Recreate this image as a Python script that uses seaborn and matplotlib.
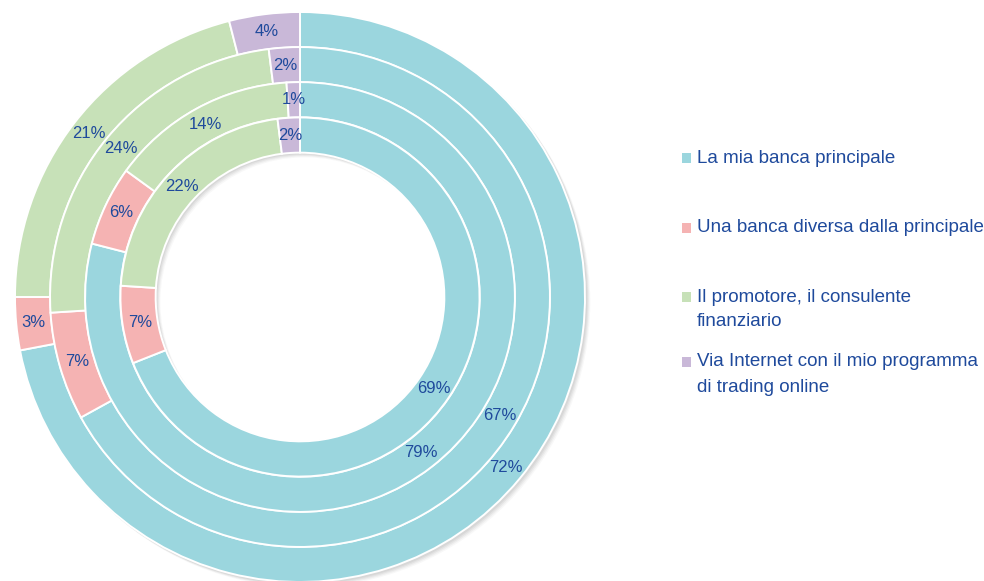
import matplotlib
matplotlib.use("Agg")
import numpy as np
import matplotlib.pyplot as plt
from matplotlib.patches import Wedge, Rectangle
import seaborn as sns

# Survey answers, one ring per group (outermost first)
categories = [
    "La mia banca principale",
    "Una banca diversa dalla principale",
    "Il promotore, il consulente\nfinanziario",
    "Via Internet con il mio programma\ndi trading online",
]
ring_1 = [72, 3, 21, 4]
ring_2 = [67, 7, 24, 2]
ring_3 = [79, 6, 14, 1]
ring_4 = [69, 7, 22, 2]
rings = [ring_1, ring_2, ring_3, ring_4]

sns.set_theme(style="white")
plt.rcParams["font.family"] = ["Liberation Sans", "DejaVu Sans"]

palette = sns.color_palette(["#9BD6DE", "#F5B3B3", "#C7E1B8", "#C9B8D8"])
text_color = "#1F4A9C"

W, H = 984, 581
fig = plt.figure(figsize=(W / 100, H / 100), dpi=100)
ax = fig.add_axes([0, 0, 1, 1])

# pixel geometry of the donut
cx, cy, scale = 300, 297, 285.0
outer_radii = [1.0, 0.877, 0.754, 0.630]
ring_w = 0.1235
hole = outer_radii[-1] - ring_w

# soft drop shadow behind the rings
for off, a in [(5, 0.05), (4, 0.07), (3, 0.09), (2, 0.10)]:
    d = off / scale
    ax.add_patch(Wedge((d, -d), 1.0 + 0.3 / scale, 0, 360,
                       width=1.0 - hole, facecolor="#777777",
                       edgecolor="none", alpha=a, zorder=0))

for r, vals in zip(outer_radii, rings):
    wedges, _ = ax.pie(vals, radius=r, startangle=90, counterclock=False,
                       colors=palette,
                       wedgeprops=dict(width=ring_w, edgecolor="white",
                                       linewidth=1.4))
    for w, v in zip(wedges, vals):
        w.set_zorder(2)
        ang = np.deg2rad((w.theta1 + w.theta2) / 2)
        rm = r - ring_w / 2
        ax.text(rm * np.cos(ang), rm * np.sin(ang), f"{v}%",
                ha="center", va="center", fontsize=12,
                color=text_color, zorder=3)

ax.set_aspect("auto")
ax.set_xlim(-cx / scale, (W - cx) / scale)
ax.set_ylim(-(H - cy) / scale, cy / scale)
ax.axis("off")

# legend drawn in pixel positions on the right
tops = [158, 228, 297, 362]
line_gap = 25
for lab, col, y in zip(categories, palette, tops):
    fig.patches.append(Rectangle((682 / W, 1 - (y + 5) / H), 9 / W, 10 / H,
                                 transform=fig.transFigure, facecolor=col,
                                 edgecolor="none"))
    for i, line in enumerate(lab.split("\n")):
        fig.text(697 / W, 1 - (y + i * line_gap) / H, line, ha="left",
                 va="center", fontsize=13.5, color=text_color)

fig.savefig("out.png", dpi=100)
